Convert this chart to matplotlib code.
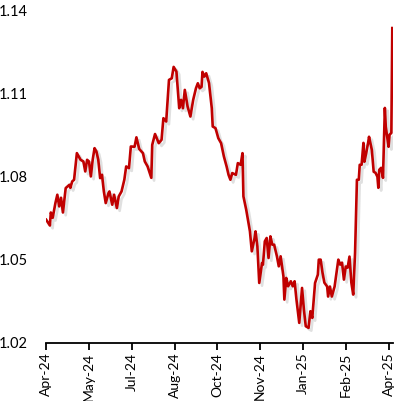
import numpy as np
import pandas as pd
import matplotlib
matplotlib.use("Agg")
import matplotlib.pyplot as plt
import matplotlib.dates as mdates
import matplotlib.patheffects as pe

# first date on the axis, then day offsets of each point
start = pd.Timestamp("2024-04-09")
days = [0, 4, 5, 7, 10, 12, 14, 16, 18, 21, 25, 26, 28, 30, 33, 35, 37, 40, 42, 44,
        46, 48, 50, 52, 54, 56, 58, 60, 62, 64, 67, 68, 71, 73, 76, 78, 81, 84, 86, 89,
        91, 95, 97, 100, 104, 106, 109, 113, 114, 117, 121, 124, 126, 129, 132, 135, 137, 140, 143, 145,
        147, 149, 152, 155, 158, 161, 163, 165, 167, 168, 170, 172, 175, 178, 179, 182, 185, 188, 191, 194,
        196, 198, 200, 204, 206, 209, 211, 212, 215, 219, 221, 224, 225, 227, 229, 232, 233, 235, 237, 239,
        241, 243, 245, 248, 250, 252, 255, 256, 258, 260, 263, 265, 267, 269, 272, 275, 277, 279, 282, 284,
        286, 289, 292, 293, 295, 297, 299, 302, 303, 305, 307, 310, 312, 314, 316, 318, 320, 322, 324, 326,
        328, 330, 332, 333, 334, 336, 337, 339, 341, 342, 344, 346, 347, 350, 352, 354, 356, 357, 358, 360,
        362, 364, 365, 368, 369, 371, 372]
rate = [1.0644, 1.0623, 1.0670, 1.0651, 1.0705, 1.0734, 1.0692, 1.0723, 1.0670, 1.0758,
        1.0770, 1.0759, 1.0782, 1.0788, 1.0884, 1.0872, 1.0860, 1.0854, 1.0818, 1.0860,
        1.0854, 1.0800, 1.0860, 1.0902, 1.0890, 1.0860, 1.0794, 1.0806, 1.0746, 1.0704,
        1.0740, 1.0746, 1.0698, 1.0734, 1.0686, 1.0728, 1.0746, 1.0788, 1.0836, 1.0830,
        1.0908, 1.0907, 1.0941, 1.0899, 1.0884, 1.0854, 1.0836, 1.0795, 1.0914, 1.0953,
        1.0920, 1.0932, 1.1010, 1.0998, 1.1148, 1.1154, 1.1195, 1.1178, 1.1046, 1.1076,
        1.1046, 1.1112, 1.1052, 1.1016, 1.1076, 1.1118, 1.1136, 1.1118, 1.1123, 1.1177,
        1.1160, 1.1172, 1.1137, 1.1046, 1.0980, 1.0974, 1.0938, 1.0920, 1.0872, 1.0835,
        1.0806, 1.0788, 1.0812, 1.0806, 1.0848, 1.0842, 1.0884, 1.0728, 1.0680, 1.0602,
        1.0530, 1.0578, 1.0602, 1.0548, 1.0416, 1.0488, 1.0482, 1.0566, 1.0578, 1.0506,
        1.0584, 1.0554, 1.0554, 1.0512, 1.0476, 1.0512, 1.0440, 1.0356, 1.0434, 1.0404,
        1.0422, 1.0404, 1.0422, 1.0356, 1.0272, 1.0398, 1.0320, 1.0260, 1.0254, 1.0314,
        1.0290, 1.0416, 1.0446, 1.0500, 1.0500, 1.0453, 1.0417, 1.0403, 1.0367, 1.0403,
        1.0367, 1.0403, 1.0453, 1.0500, 1.0482, 1.0489, 1.0428, 1.0475, 1.0471, 1.0511,
        1.0417, 1.0374, 1.0525, 1.0655, 1.0788, 1.0788, 1.0842, 1.0842, 1.0921, 1.0853,
        1.0885, 1.0921, 1.0943, 1.0896, 1.0817, 1.0813, 1.0799, 1.0759, 1.0824, 1.0831,
        1.0795, 1.1047, 1.0979, 1.0907, 1.0950, 1.0957, 1.1335]

yticks = [1.02, 1.05, 1.08, 1.11, 1.14]
tick_step = 46  # days between x tick labels

dates = start + pd.to_timedelta(days, unit="D")

plt.rcParams['font.family'] = ['Lato', 'DejaVu Sans']

fig = plt.figure(figsize=(3.98, 4.01), dpi=100)
ax = fig.add_axes([0.116, 0.145, 0.872, 0.830])

ax.plot(dates, rate, color="#C00000", lw=1.9, solid_joinstyle="round",
        path_effects=[pe.SimpleLineShadow(offset=(2, -2), shadow_color="#999999", alpha=0.3),
                      pe.Normal()])

ax.set_ylim(yticks[0], yticks[-1])
ax.set_yticks(yticks)
ax.set_yticklabels([f"{t:.2f}" for t in yticks])
ax.set_xlim(start, start + pd.Timedelta(days=373))
xt = pd.date_range(start, periods=9, freq=f"{tick_step}D")
ax.set_xticks(xt)
ax.xaxis.set_major_formatter(mdates.DateFormatter("%b-%y"))

for s in ["top", "right", "left"]:
    ax.spines[s].set_visible(False)
ax.spines["bottom"].set_linewidth(1.3)
ax.tick_params(axis="y", length=0, pad=13, labelsize=10.5)
ax.tick_params(axis="x", length=5, width=1.3, direction="out", pad=2,
               labelsize=10, labelrotation=90)

fig.savefig("out.png", dpi=100)
